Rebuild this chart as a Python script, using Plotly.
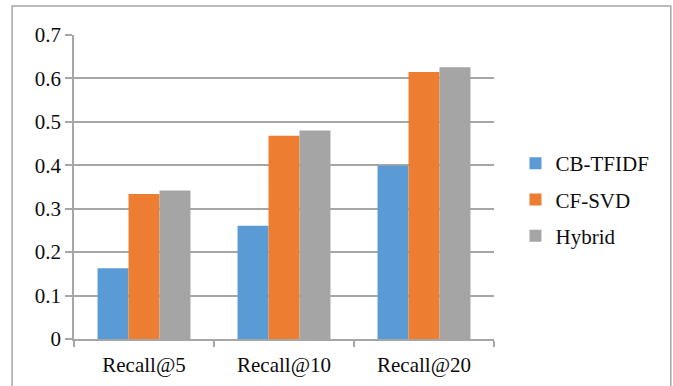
import plotly.graph_objects as go

# Recall at different cut-offs for three recommender approaches
categories = ["Recall@5", "Recall@10", "Recall@20"]
cb_tfidf = [0.163, 0.261, 0.399]
cf_svd = [0.334, 0.468, 0.615]
hybrid = [0.342, 0.480, 0.626]
y_ticks = [0, 0.1, 0.2, 0.3, 0.4, 0.5, 0.6, 0.7]
y_tick_labels = ["0", "0.1", "0.2", "0.3", "0.4", "0.5", "0.6", "0.7"]

series = [
    ("CB-TFIDF", cb_tfidf, "#5b9bd5"),
    ("CF-SVD", cf_svd, "#ed7d31"),
    ("Hybrid", hybrid, "#a5a5a5"),
]

W, H = 673, 386
ML, MR, MT, MB = 74, 178.5, 35, 47
FONT = "Liberation Serif"
FSIZE = 21
GRID = "#a6a6a6"
TEXT = "#0d0d0d"

fig = go.Figure()
for name, vals, color in series:
    fig.add_trace(go.Bar(
        name=name, x=categories, y=vals,
        marker=dict(color=color, line=dict(width=0)),
        legendgroup=name,
    ))

# outer frame of the chart area, in paper coordinates
pw = W - ML - MR
ph = H - MT - MB
def px_to_paper_x(px):
    return (px - ML) / pw
def px_to_paper_y(py):
    return (H - MB - py) / ph

fig.add_shape(
    type="rect", xref="paper", yref="paper",
    x0=px_to_paper_x(12), x1=px_to_paper_x(671.5),
    y0=px_to_paper_y(392), y1=px_to_paper_y(6),
    line=dict(color="#a6a6a6", width=1.5), fillcolor="rgba(0,0,0,0)",
    layer="below",
)

fig.update_layout(
    width=W, height=H,
    margin=dict(l=ML, r=MR, t=MT, b=MB, pad=0, autoexpand=False),
    paper_bgcolor="white", plot_bgcolor="white",
    font=dict(family=FONT, size=FSIZE, color=TEXT),
    barmode="group", bargap=0.336, bargroupgap=0,
    showlegend=True,
    legend=dict(
        x=px_to_paper_x(516), xanchor="left",
        y=px_to_paper_y(143), yanchor="top",
        traceorder="grouped", tracegroupgap=6,
        font=dict(family=FONT, size=FSIZE, color=TEXT),
        bgcolor="rgba(0,0,0,0)", borderwidth=0,
    ),
    xaxis=dict(
        type="category", automargin=False,
        showgrid=False, zeroline=False,
        showline=True, linecolor=GRID, linewidth=1.5,
        ticks="outside", tickson="boundaries", ticklen=6,
        tickcolor=GRID, tickwidth=1.5,
        ticklabelstandoff=6,
        tickfont=dict(family=FONT, size=FSIZE, color=TEXT),
    ),
    yaxis=dict(
        range=[0, 0.7], automargin=False,
        tickvals=y_ticks, ticktext=y_tick_labels,
        showgrid=True, gridcolor=GRID, gridwidth=1.5,
        zeroline=False,
        showline=True, linecolor=GRID, linewidth=1.5,
        ticks="outside", ticklen=7, tickcolor=GRID, tickwidth=1.5,
        ticklabelstandoff=0,
        tickfont=dict(family=FONT, size=FSIZE, color=TEXT),
    ),
)

fig.write_html("out.html")
